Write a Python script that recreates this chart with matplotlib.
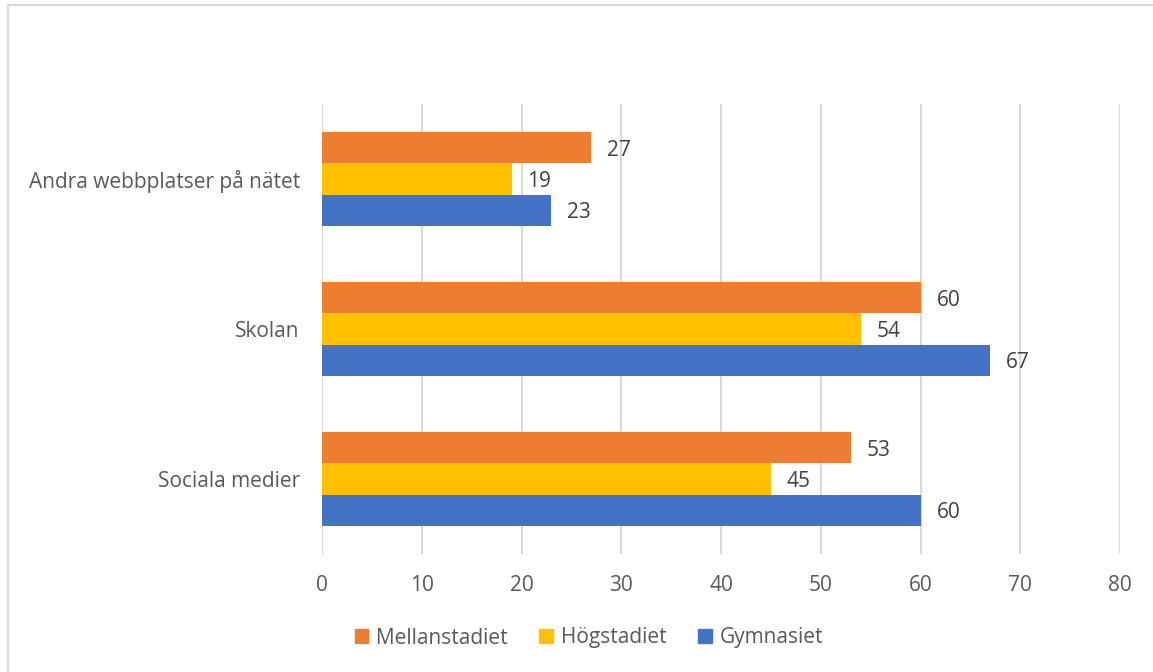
import matplotlib
matplotlib.use("Agg")
import matplotlib.pyplot as plt
import numpy as np
from matplotlib.patches import Rectangle

categories = ["Sociala medier", "Skolan", "Andra webbplatser på nätet"]
series_names = ["Mellanstadiet", "Högstadiet", "Gymnasiet"]
mellanstadiet = [53, 60, 27]
hogstadiet = [45, 54, 19]
gymnasiet = [60, 67, 23]
colors = ["#ED7D31", "#FFC000", "#4472C4"]
xticks = [0, 10, 20, 30, 40, 50, 60, 70, 80]

plt.rcParams['font.family'] = ['Open Sans', 'DejaVu Sans']
FS = 15

fig = plt.figure(figsize=(11.53, 6.72), dpi=100)
ax = fig.add_axes([322/1153, 1-554/672, (1120-322)/1153, 450/672])

y = np.arange(len(categories))
h = 0.207
vals = [mellanstadiet, hogstadiet, gymnasiet]
offsets = [h, 0, -h]
for name, v, c, off in zip(series_names, vals, colors, offsets):
    bars = ax.barh(y + off, v, height=h, color=c, label=name, zorder=3)
    for b, val in zip(bars, v):
        ax.text(b.get_width() + 1.6, b.get_y() + b.get_height()/2, f"{val}",
                va="center_baseline", ha="left", fontsize=FS, color="#404040")

ax.set_xlim(0, 80)
ax.set_ylim(-0.5, 2.5)
ax.set_xticks(xticks)
ax.set_xticklabels([str(t) for t in xticks], fontsize=FS, color="#595959")
ax.set_yticks(y)
ax.set_yticklabels(categories, fontsize=FS, color="#595959")
ax.tick_params(axis="both", length=0)
ax.tick_params(axis="x", pad=15)
ax.tick_params(axis="y", pad=16)
ax.grid(axis="x", color="#D9D9D9", linewidth=1.5, zorder=0)
for s in ax.spines.values():
    s.set_visible(False)

handles = [plt.Rectangle((0, 0), 1, 1, color=c) for c in colors]
fig.legend(handles, series_names, loc="center", bbox_to_anchor=(589/1153, 1-638/672),
           ncol=3, frameon=False, fontsize=FS, handlelength=0.65, handleheight=0.65,
           columnspacing=1.5, handletextpad=0.4, labelcolor="#595959")

fig.patches.append(Rectangle((8/1153, -0.1), 1.2, 1 - 5/672 + 0.1, transform=fig.transFigure,
                             fill=False, edgecolor="#D9D9D9", linewidth=1.5))

fig.savefig("out.png", dpi=100)
